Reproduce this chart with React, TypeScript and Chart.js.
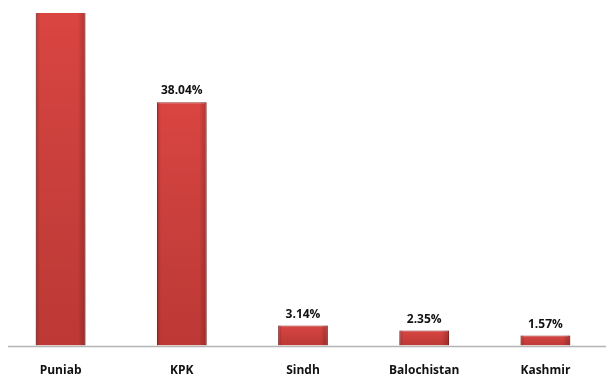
import React, { useEffect, useRef } from "react";
import { Chart, registerables } from "chart.js";

Chart.register(...registerables);

const categories = ["Puniab", "KPK", "Sindh", "Balochistan", "Kashmir"];
const shares = [54.9, 38.04, 3.14, 2.35, 1.57];
const valueLabels = ["54.90%", "38.04%", "3.14%", "2.35%", "1.57%"];
const axisMax = 52;

const FONT = "'Open Sans', 'DejaVu Sans', sans-serif";

const decorPlugin = {
  id: "decor",
  afterDatasetsDraw(chart: any) {
    const { ctx, chartArea, scales } = chart;
    const meta = chart.getDatasetMeta(0);
    // bevel shading on each bar
    ctx.save();
    ctx.beginPath();
    ctx.rect(chartArea.left, chartArea.top, chartArea.right - chartArea.left, chartArea.bottom - chartArea.top);
    ctx.clip();
    meta.data.forEach((bar: any) => {
      const w = bar.width;
      const left = bar.x - w / 2;
      const top = Math.max(bar.y, chartArea.top);
      const h = bar.base - top;
      const g = ctx.createLinearGradient(left, 0, left + w, 0);
      g.addColorStop(0, "rgba(90,10,10,0.25)");
      g.addColorStop(0.08, "rgba(0,0,0,0)");
      g.addColorStop(0.85, "rgba(0,0,0,0)");
      g.addColorStop(1, "rgba(60,0,0,0.25)");
      ctx.fillStyle = g;
      ctx.fillRect(left, top, w, h);
      const gv = ctx.createLinearGradient(0, top, 0, bar.base);
      gv.addColorStop(0, "rgba(0,0,0,0)");
      gv.addColorStop(1, "rgba(60,0,0,0.18)");
      ctx.fillStyle = gv;
      ctx.fillRect(left, top, w, h);
    });
    ctx.restore();

    // baseline
    const y0 = Math.round(scales.y.getPixelForValue(0)) + 0.5;
    ctx.save();
    ctx.strokeStyle = "#b4b4b4";
    ctx.lineWidth = 1.5;
    ctx.beginPath();
    ctx.moveTo(chartArea.left + 8, y0);
    ctx.lineTo(chartArea.right, y0);
    ctx.stroke();
    ctx.restore();

    // value labels
    ctx.save();
    ctx.font = `bold 12px ${FONT}`;
    ctx.fillStyle = "#111111";
    ctx.textAlign = "center";
    ctx.textBaseline = "alphabetic";
    meta.data.forEach((bar: any, i: number) => {
      const ty = bar.y - 8;
      if (ty - 10 < chartArea.top) return;
      ctx.fillText(valueLabels[i], bar.x, ty);
    });
    ctx.restore();
  },
};

export default function App() {
  const ref = useRef<HTMLCanvasElement | null>(null);
  useEffect(() => {
    if (!ref.current) return;
    const chart = new Chart(ref.current, {
      type: "bar",
      data: {
        labels: categories,
        datasets: [
          {
            data: shares,
            backgroundColor: "#da4541",
            borderColor: "#9c2f2d",
            borderWidth: 1,
            barPercentage: 0.82,
            categoryPercentage: 0.5,
            clip: 0,
          } as any,
        ],
      },
      options: {
        animation: false,
        responsive: false,
        maintainAspectRatio: false,
        layout: { padding: { top: 13, left: 0, right: 0, bottom: -20 } },
        plugins: { legend: { display: false }, tooltip: { enabled: false } },
        scales: {
          x: {
            grid: { display: false, drawTicks: false },
            border: { display: false },
            ticks: {
              padding: 18,
              color: "#111111",
              font: { family: FONT, size: 12, weight: "bold" },
            },
          },
          y: {
            display: false,
            min: 0,
            max: axisMax,
          },
        },
      },
      plugins: [decorPlugin],
    });
    return () => chart.destroy();
  }, []);
  return (
    <div style={{ position: "fixed", left: 0, top: 0, width: 606, height: 376, background: "#fff" }}>
      <canvas ref={ref} width={606} height={376} style={{ width: 606, height: 376, display: "block" }} />
    </div>
  );
}
